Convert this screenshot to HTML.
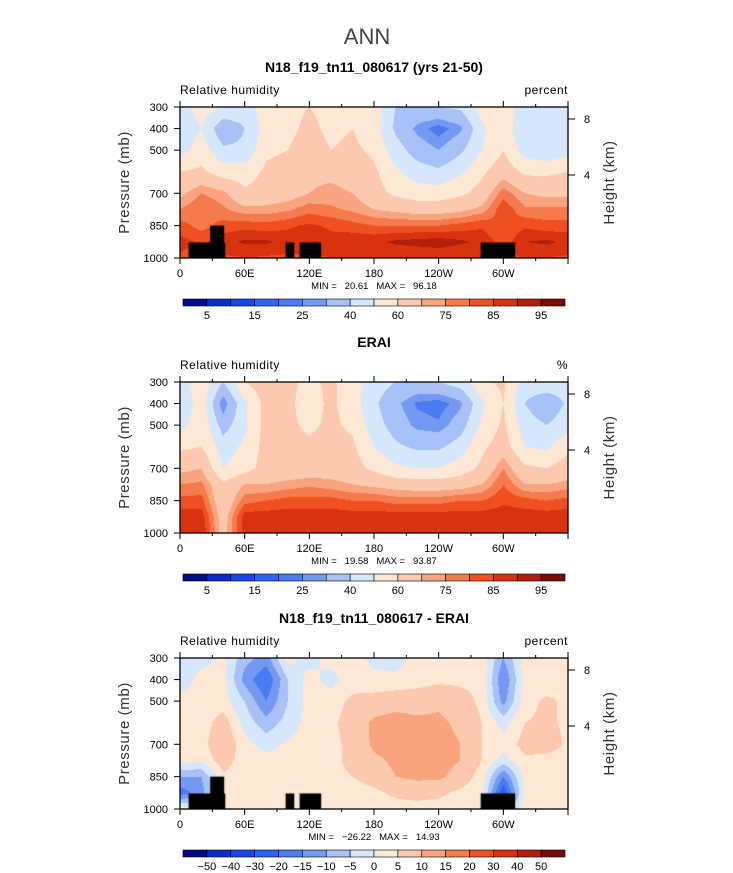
<!DOCTYPE html>
<html><head><meta charset="utf-8">
<style>
body{margin:0;background:#fff;width:733px;height:873px;position:relative;overflow:hidden;font-family:"Liberation Sans",sans-serif;}
canvas{position:absolute;}
svg{position:absolute;left:0;top:0;}
</style></head>
<body>
<canvas id="c1" width="388" height="151" style="left:180px;top:107px"></canvas>
<canvas id="c2" width="388" height="151" style="left:180px;top:382px"></canvas>
<canvas id="c3" width="388" height="151" style="left:180px;top:658px"></canvas>
<svg id="ov" width="733" height="873"></svg>
<script>
const lons=[0,20,40,60,80,100,120,140,160,180,200,220,240,260,280,300,320,340,360];
const pres=[300,400,500,600,700,775,850,925,1000];
const rhLevels=[5,10,15,20,25,30,40,50,60,70,75,80,85,90,95];
const rhLabels=["5","15","25","40","60","75","85","95"];
const diffLevels=[-50,-40,-30,-20,-15,-10,-5,0,5,10,15,20,30,40,50];
const diffLabels=["−50","−40","−30","−20","−15","−10","−5","0","5","10","15","20","30","40","50"];
const colors=["#000b8c","#0a2cc8","#1547e6","#2d63f2","#4b7bf0","#7399f2","#a8c1f6","#d6e7fc","#fde8d6","#fcc9ae","#f9a47f","#f57a4c","#ee5022","#d8330e","#b32009","#7a0a03"];
const xTicks=[0,60,120,180,240,300];
const xTickLabels=["0","60E","120E","180","120W","60W"];
const yTicks=[300,400,500,700,850,1000];
const hTicks=[8,4];
const model=[
[45,55,50,45,55,58,60,58,60,55,40,38,40,42,55,60,40,45,45],
[42,50,32,40,55,58,62,58,60,55,38,28,22,28,48,58,40,40,42],
[46,55,42,42,58,60,64,60,62,58,45,35,30,38,50,60,45,42,46],
[60,62,55,55,62,64,68,68,66,62,52,45,42,48,58,66,58,58,60],
[68,75,72,62,64,66,70,72,70,64,58,55,55,58,64,78,70,68,68],
[75,80,76,72,72,74,78,76,74,70,68,66,66,68,72,84,76,76,76],
[82,78,82,83,82,84,86,84,82,80,80,80,80,82,84,80,84,82,82],
[87,84,88,91,91,88,89,87,89,89,91,92,93,91,89,82,90,91,89],
[84,83,84,85,84,84,84,85,85,85,85,85,85,85,85,84,85,85,84]];
const erai=[
[44,58,40,60,66,62,58,62,55,45,40,38,40,45,58,62,45,48,44],
[42,55,25,48,64,62,56,62,55,42,32,24,22,28,48,60,40,32,42],
[46,58,35,48,64,62,58,62,58,45,35,28,26,35,52,62,45,40,46],
[58,60,45,52,64,64,62,64,62,50,42,38,38,45,58,65,50,48,58],
[68,70,50,56,64,64,64,66,64,58,52,50,50,55,62,75,62,60,65],
[75,76,62,70,70,72,74,72,70,68,66,65,65,66,70,80,70,70,72],
[82,82,62,78,80,82,82,82,80,80,78,78,78,80,80,84,82,80,82],
[88,88,65,88,88,88,88,88,88,88,88,88,88,88,88,88,88,88,88],
[90,90,66,88,90,90,88,88,88,90,90,90,90,90,88,90,90,90,90]];
const diff=[
[-3,-2,1,-8,-12,2,-2,2,3,-2,-3,2,2,2,3,-10,2,2,2],
[-3,2,2,-12,-20,-5,2,-2,3,2,2,3,4,4,4,-15,2,2,2],
[2,2,2,-5,-15,-5,2,3,6,7,8,8,9,7,4,-12,3,6,4],
[2,2,8,-2,-8,-3,2,4,7,11,12,11,11,9,5,-2,5,6,4],
[2,3,10,2,-2,1,2,4,6,11,12,12,12,10,5,2,7,8,4],
[2,1,8,2,2,2,3,4,6,9,11,12,12,10,5,-2,4,3,3],
[-10,-10,4,2,2,3,4,4,5,7,10,11,11,8,3,-15,2,3,2],
[-18,-12,3,2,2,2,3,3,3,4,6,7,6,4,2,-25,2,2,2],
[2,2,2,2,2,2,2,2,2,3,3,3,3,3,2,-5,2,2,2]];
// topography mask boxes
const maskLon0=[8,28,98,111,279];
const maskLon1=[42,41,106,131,311];
const maskTop=[928,850,928,928,928];

const W=388,H=151;
function xS(lon){return lon/360*W;}
function yS(p){return (p-300)/700*H;}
function hexRGB(h){return [parseInt(h.substr(1,2),16),parseInt(h.substr(3,2),16),parseInt(h.substr(5,2),16)];}
const rgb=colors.map(hexRGB);
function interp(grid,lon,p){
  let i=0;while(i<lons.length-2&&lon>lons[i+1])i++;
  let j=0;while(j<pres.length-2&&p>pres[j+1])j++;
  const tx=Math.min(1,Math.max(0,(lon-lons[i])/(lons[i+1]-lons[i])));
  const ty=Math.min(1,Math.max(0,(p-pres[j])/(pres[j+1]-pres[j])));
  const a=grid[j][i],b=grid[j][i+1],c=grid[j+1][i],d=grid[j+1][i+1];
  return a*(1-tx)*(1-ty)+b*tx*(1-ty)+c*(1-tx)*ty+d*tx*ty;
}
function draw(id,grid,levels,mask){
  const cv=document.getElementById(id),ctx=cv.getContext('2d');
  const img=ctx.createImageData(W,H);
  for(let py=0;py<H;py++){for(let px=0;px<W;px++){
    const lon=(px+0.5)/W*360,p=300+(py+0.5)/H*700;
    const v=interp(grid,lon,p);
    let k=0;while(k<levels.length&&v>=levels[k])k++;
    const c=rgb[k],o=(py*W+px)*4;
    img.data[o]=c[0];img.data[o+1]=c[1];img.data[o+2]=c[2];img.data[o+3]=255;
  }}
  ctx.putImageData(img,0,0);
  if(mask){ctx.fillStyle='#000';
    for(let m=0;m<maskLon0.length;m++){
      ctx.fillRect(xS(maskLon0[m]),yS(maskTop[m]),xS(maskLon1[m])-xS(maskLon0[m]),H-yS(maskTop[m]));
    }}
}
draw('c1',model,rhLevels,true);
draw('c2',erai,rhLevels,false);
draw('c3',diff,diffLevels,true);

const NS='http://www.w3.org/2000/svg';
const ov=document.getElementById('ov');
function el(tag,attrs,text){const e=document.createElementNS(NS,tag);for(const k in attrs)e.setAttribute(k,attrs[k]);if(text!==undefined)e.textContent=text;ov.appendChild(e);return e;}
let t=el('text',{x:367,y:44,'text-anchor':'middle','font-size':22,fill:'#444'},'ANN');


const panels=[
 {top:107,title:'N18_f19_tn11_080617 (yrs 21-50)',unit:'percent',min:'20.61',max:'96.18',lab:rhLabels,every:2,name:'model'},
 {top:382,title:'ERAI',unit:'%',min:'19.58',max:'93.87',lab:rhLabels,every:2,name:'erai'},
 {top:658,title:'N18_f19_tn11_080617 - ERAI',unit:'percent',min:'−26.22',max:'14.93',lab:diffLabels,every:1,name:'diff'}];
panels.forEach(P=>{
  const x0=180,y0=P.top;
  let e=el('text',{x:374,y:y0-35,'text-anchor':'middle','font-size':14,'font-weight':'bold',fill:'#000'},P.title);
  
  
  e=el('text',{x:x0,y:y0-13,'font-size':12,fill:'#000','letter-spacing':'0.5'},'Relative humidity');
  
  
  e=el('text',{x:x0+W,y:y0-13,'text-anchor':'end','font-size':12,fill:'#000','letter-spacing':'0.5'},P.unit);
  
  
  e=el('rect',{x:x0,y:y0,width:W,height:H,fill:'none',stroke:'#000','stroke-width':1.3});
  
  
  for(let lon=0;lon<=360;lon+=30){
    const x=x0+xS(lon),len=lon%60===0?6:3;
    el('line',{x1:x,x2:x,y1:y0,y2:y0-len,stroke:'#000','stroke-width':1});
    el('line',{x1:x,x2:x,y1:y0+H,y2:y0+H+len,stroke:'#000','stroke-width':1});
  }
  xTicks.forEach((lon,i)=>{
    const tx=el('text',{x:x0+xS(lon),y:y0+H+19,'text-anchor':'middle','font-size':11,fill:'#000'},xTickLabels[i]);
    
    
  });
  yTicks.forEach(p=>{
    const y=y0+yS(p);
    el('line',{x1:x0,x2:x0-6,y1:y,y2:y,stroke:'#000','stroke-width':1});
    const tx=el('text',{x:x0-12,y:y+4,'text-anchor':'end','font-size':11,fill:'#000'},String(p));
    
    
  });
  hTicks.forEach(h=>{
    const y=y0+(h===8?12:68);
    el('line',{x1:x0+W,x2:x0+W+7,y1:y,y2:y,stroke:'#000','stroke-width':1});
    const tx=el('text',{x:x0+W+16,y:y+4,'font-size':11,fill:'#000'},String(h));
    
    
  });
  e=el('text',{x:0,y:0,'text-anchor':'middle','font-size':15,fill:'#333','letter-spacing':'0.6',transform:`translate(129,${y0+H/2}) rotate(-90)`},'Pressure (mb)');
  
  
  e=el('text',{x:0,y:0,'text-anchor':'middle','font-size':15,fill:'#333','letter-spacing':'0.6',transform:`translate(614,${y0+H/2}) rotate(-90)`},'Height (km)');
  
  
  e=el('text',{x:374,y:y0+H+31,'text-anchor':'middle','font-size':9.5,fill:'#000',style:'white-space:pre'},'MIN =   '+P.min+'   MAX =   '+P.max);
  
  
  const cy=y0+H+41,bw=382/16;
  for(let k=0;k<16;k++){
    const r=el('rect',{x:183+k*bw,y:cy,width:bw,height:7,fill:colors[k],stroke:'#000','stroke-width':0.6});
    
    
  }
  P.lab.forEach((s,i)=>{
    const b=P.every===2?1+2*i:1+i;
    const tx=el('text',{x:183+b*bw,y:cy+20,'text-anchor':'middle','font-size':11,fill:'#000'},s);
    
    
  });
});
</script>
</body></html>
